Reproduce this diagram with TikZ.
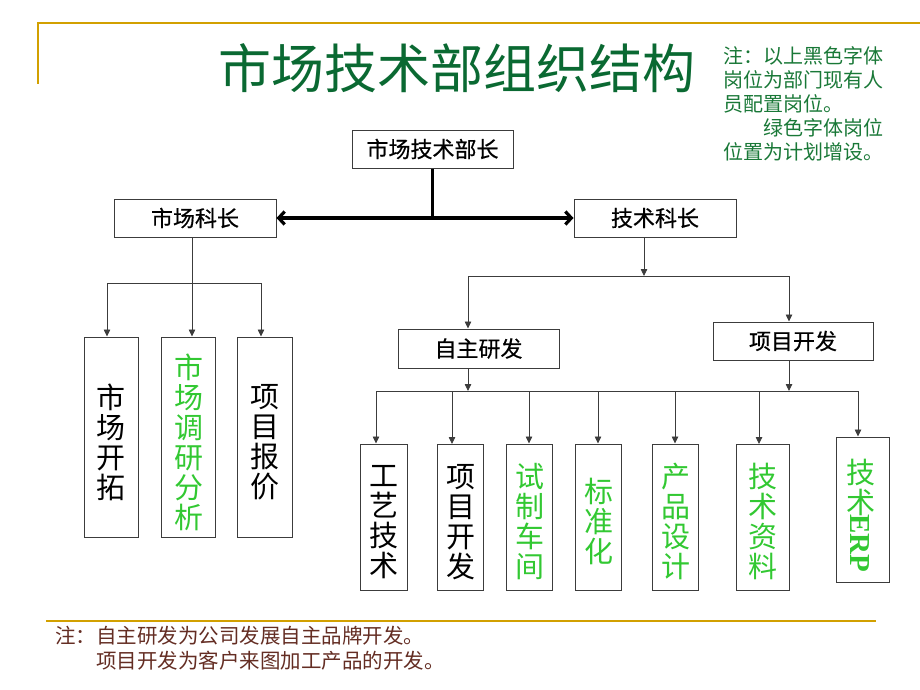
\documentclass[tikz,border=0pt]{standalone}
\usepackage{fontspec}
\setmainfont{Noto Sans CJK SC}
\newfontfamily\boxfont[FakeBold=0.6]{Noto Sans CJK SC}
\newfontfamily\erpfont{Liberation Serif}
\usetikzlibrary{arrows.meta}
\definecolor{gold}{RGB}{210,160,0}
\definecolor{titlegreen}{RGB}{10,105,50}
\definecolor{notegreen}{RGB}{25,120,55}
\definecolor{newgreen}{RGB}{50,200,50}
\definecolor{notebrown}{RGB}{100,45,35}
\definecolor{boxgray}{RGB}{60,60,60}
\begin{document}
\begin{tikzpicture}[x=1pt,y=-1pt,
  box/.style={draw=boxgray, line width=1pt, fill=white, inner sep=0pt, minimum height=38pt, font=\boxfont\fontsize{22}{26}\selectfont},
  vbox/.style={draw=boxgray, line width=1pt, inner sep=0pt},
  vtext/.style={align=center, inner sep=0pt, font=\fontsize{29}{30}\selectfont},
  conn/.style={draw=boxgray, line width=0.8pt},
  arr/.style={conn, -{Triangle[length=7pt,width=6.5pt]}},
  boldline/.style={draw=black, line width=3.2pt},
  goldline/.style={draw=gold, line width=2.5pt}]
\useasboundingbox (0,0) rectangle (920,690);

% frame lines
\draw[goldline, line join=miter] (38,84) -- (38,23) -- (920,23);
\draw[goldline] (46,621) -- (876,621);

% title
\node[font=\fontsize{53}{60}\selectfont, text=titlegreen, inner sep=0pt] (title) at (457,68) {市场技术部组织结构};

% top-right note
\node[anchor=center, align=left, inner sep=0pt, text=notegreen, font=\fontsize{20}{24}\selectfont] (note1) at (803,104)
  {注：以上黑色字体\\岗位为部门现有人\\员配置岗位。\\\hspace*{2em}绿色字体岗位\\位置为计划增设。};

% bottom note
\node[anchor=west, align=left, inner sep=0pt, text=notebrown, font=\fontsize{20.5}{25}\selectfont] (note2) at (55,648)
  {注：自主研发为公司发展自主品牌开发。\\\hspace*{2em}项目开发为客户来图加工产品的开发。};

% main boxes
\node[box, minimum width=161pt] (head) at (432.5,149) {市场技术部长};
\node[box, minimum width=162pt] (mk) at (195,218) {市场科长};
\node[box, minimum width=162pt] (js) at (655,218) {技术科长};
\node[box, minimum width=161pt, minimum height=39pt] (zz) at (478.5,348.5) {自主研发};
\node[box, minimum width=160pt] (xm) at (793,341) {项目开发};

% thick connectors
\draw[boldline] (head.south) -- (head.south |- mk.east);
\draw[boldline, {Straight Barb[length=6pt,width=13pt]}-{Straight Barb[length=6pt,width=13pt]}] (mk.east) -- (js.west);

% left children
\node[vbox, minimum width=54pt, minimum height=200pt] (l1) at (111,437) {};
\node[vbox, minimum width=54pt, minimum height=200pt] (l2) at (188,437) {};
\node[vbox, minimum width=55pt, minimum height=200pt] (l3) at (264.5,437) {};
\node[vtext] (l1t) at (111,442) {市\\场\\开\\拓};
\node[vtext, text=newgreen] (l2t) at (189,442) {市\\场\\调\\研\\分\\析};
\node[vtext] (l3t) at (265,442) {项\\目\\报\\价};

\coordinate (bl1) at (107,283);
\coordinate (bl2) at (261,283);
\coordinate (bl3) at (192,283);
\draw[conn] (bl1) -- (bl2);
\draw[arr] (mk.south -| bl3) -- (bl3 |- l2.north);
\draw[arr] (bl1) -- (bl1 |- l1.north);
\draw[arr] (bl2) -- (bl2 |- l3.north);

% technical branch
\coordinate (t0) at (644,276);
\coordinate (t1) at (468,276);
\coordinate (t2) at (789,276);
\draw[arr] (js.south -| t0) -- (t0);
\draw[conn] (t1) -- (t2);
\draw[arr] (t1) -- (t1 |- zz.north);
\draw[arr] (t2) -- (t2 |- xm.north);

% right children
\node[vbox, minimum width=47pt, minimum height=146pt] (r1) at (383.5,517) {};
\node[vbox, minimum width=46pt, minimum height=146pt] (r2) at (460,517) {};
\node[vbox, minimum width=46pt, minimum height=146pt] (r3) at (529,517) {};
\node[vbox, minimum width=46pt, minimum height=146pt] (r4) at (598,517) {};
\node[vbox, minimum width=46pt, minimum height=146pt] (r5) at (675,517) {};
\node[vbox, minimum width=53pt, minimum height=146pt] (r6) at (762.5,517) {};
\node[vbox, minimum width=53pt, minimum height=145pt] (r7) at (862.5,509.5) {};

\node[vtext] (r1t) at (384,522) {工\\艺\\技\\术};
\node[vtext] (r2t) at (461,522) {项\\目\\开\\发};
\node[vtext, text=newgreen] (r3t) at (530,522) {试\\制\\车\\间};
\node[vtext, text=newgreen] (r4t) at (599,521) {标\\准\\化};
\node[vtext, text=newgreen] (r5t) at (676,521) {产\\品\\设\\计};
\node[vtext, text=newgreen] (r6t) at (763,521) {技\\术\\资\\料};
\node[vtext, text=newgreen] (r7t) at (861,487) {技\\术};
\node[inner sep=0pt, rotate=-90, text=newgreen, font=\erpfont\bfseries\fontsize{29}{30}\selectfont] (r7e) at (860,543) {ERP};

\coordinate (b1) at (376,391);
\coordinate (b7) at (858,391);
\coordinate (bz) at (468,391);
\coordinate (bx) at (789,391);
\draw[conn] (b1) -- (b7);
\draw[arr] (zz.south -| bz) -- (bz);
\draw[arr] (xm.south -| bx) -- (bx);
\draw[arr] (b1) -- (b1 |- r1.north);
\draw[arr] (452,391) -- (452,444);
\draw[arr] (r3.north |- b1) -- (r3.north);
\draw[arr] (r4.north |- b1) -- (r4.north);
\draw[arr] (r5.north |- b1) -- (r5.north);
\draw[arr] (759,391) -- (759,444);
\draw[arr] (b7) -- (b7 |- r7.north);
\end{tikzpicture}
\end{document}
